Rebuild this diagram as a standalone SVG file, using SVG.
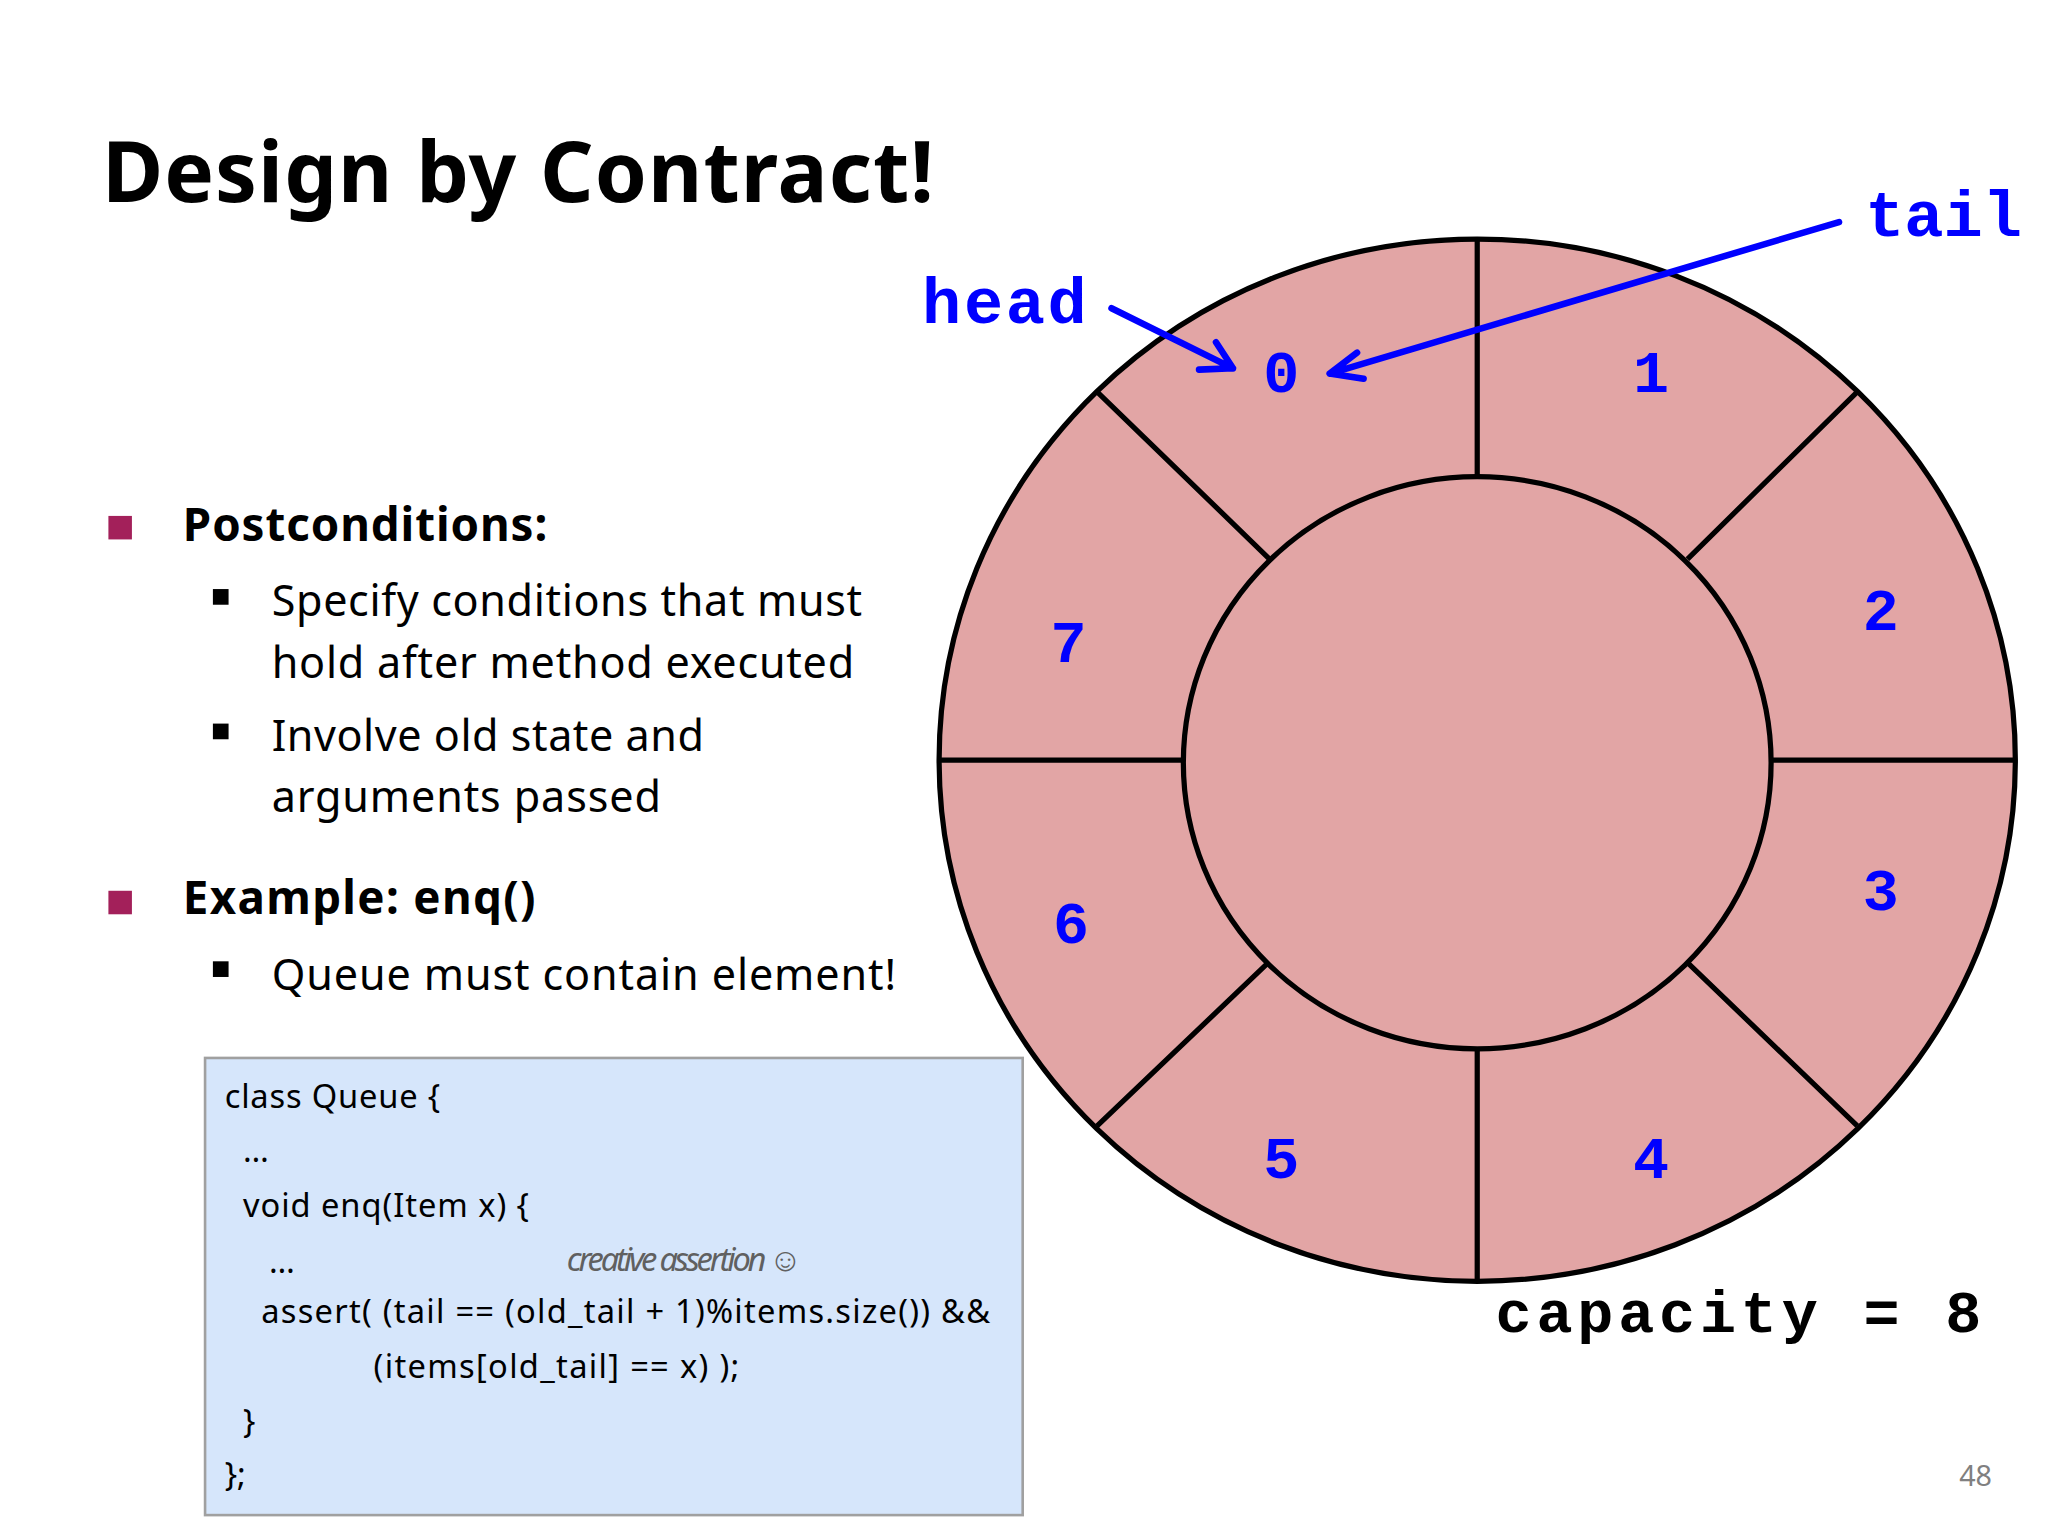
<svg xmlns="http://www.w3.org/2000/svg" width="2048" height="1536" viewBox="0 0 2048 1536">
<defs>
<style>
.s{font-family:"Noto Sans","Open Sans",sans-serif;fill:#000}
.c{font-family:"Noto Sans","Open Sans",sans-serif;font-size:25px;fill:#000}
.m{font-family:"Liberation Mono","DejaVu Sans Mono",monospace;font-weight:bold}
.n{fill:#0000ff;font-size:46px;text-anchor:middle}
.ln{stroke:#000;stroke-width:4;fill:none}
.ar{stroke:#0000ff;stroke-width:5;fill:none;stroke-linecap:round;stroke-linejoin:round}
</style>
</defs>
<rect width="2048" height="1536" fill="#fff"/>
<g transform="scale(1.30612)">
<g id="title"><text class="s" x="78" y="155" font-size="64" font-weight="bold" textLength="637">Design by Contract!</text></g>
<g id="bullets">
<rect x="83" y="395" width="18" height="18" fill="#A3205A"/>
<text class="s" x="140" y="414" font-size="35" font-weight="bold" textLength="279">Postconditions:</text>
<rect x="163" y="451" width="12" height="12" fill="#000"/>
<text class="s" x="208" y="472" font-size="33" textLength="452">Specify conditions that must</text>
<text class="s" x="208" y="519" font-size="33" textLength="446">hold after method executed</text>
<rect x="163" y="554" width="12" height="12" fill="#000"/>
<text class="s" x="208" y="575" font-size="33" textLength="331">Involve old state and</text>
<text class="s" x="208" y="622" font-size="33" textLength="298">arguments  passed</text>
<rect x="83" y="682" width="18" height="18" fill="#A3205A"/>
<text class="s" x="140" y="700" font-size="35" font-weight="bold" textLength="270">Example: enq()</text>
<rect x="163" y="736" width="12" height="12" fill="#000"/>
<text class="s" x="208" y="758" font-size="33" textLength="478">Queue must contain element!</text>
</g>
<g id="code">
<rect x="157" y="810" width="626" height="350" fill="#D6E6FB" stroke="#A0A0A0" stroke-width="2"/>
<text class="c" x="172" y="848" textLength="165">class Queue {</text>
<text class="c" x="186" y="890">…</text>
<text class="c" x="186" y="932" textLength="219">void enq(Item x) {</text>
<text class="c" x="206" y="975">…</text>
<text class="c" x="434" y="973" font-size="18" font-style="italic" fill="#606060" style="fill:#606060" textLength="180">creative assertion ☺</text>
<text class="c" x="200" y="1013" textLength="558">assert( (tail == (old_tail + 1)%items.size()) &amp;&amp;</text>
<text class="c" x="286" y="1055" textLength="280">(items[old_tail] == x) );</text>
<text class="c" x="186" y="1097">}</text>
<text class="c" x="172" y="1138">};</text>
</g>
<g id="ring">
<ellipse cx="1131" cy="582" rx="412" ry="399" fill="#E2A5A5" class="ln" style="fill:#E2A5A5"/>
<ellipse cx="1131" cy="584" rx="225" ry="219" class="ln"/>
<path class="ln" d="M1131 183V365M1131 803V980M719 582H906M1357 582H1543M840 300L972 428M1422 300L1292 428M840 862L970 738M1422 862L1293 738"/>
<g class="m n">
<text x="981" y="300">0</text><text x="1264" y="300">1</text><text x="1440" y="482">2</text><text x="1440" y="697">3</text>
<text x="1264" y="902">4</text><text x="981" y="902">5</text><text x="820" y="722">6</text><text x="818" y="507">7</text>
</g>
</g>
<g id="labels">
<text class="m" x="706" y="247" font-size="50" fill="#0000ff" textLength="126">head</text>
<text class="m" x="1428" y="181" font-size="50" fill="#0000ff" textLength="120">tail</text>
<text class="m" x="1145" y="1020" font-size="46" fill="#000" textLength="372">capacity = 8</text>
<text class="s" x="1500" y="1138" font-size="22" style="fill:#808080">48</text>
</g>
<g id="connectors">
<path class="ar" d="M851 236L944 282M918 283L944 282L931 262"/>
<path class="ar" d="M1408 170L1018 286M1039 270L1018 286L1044 290"/>
</g>
</g>
</svg>
